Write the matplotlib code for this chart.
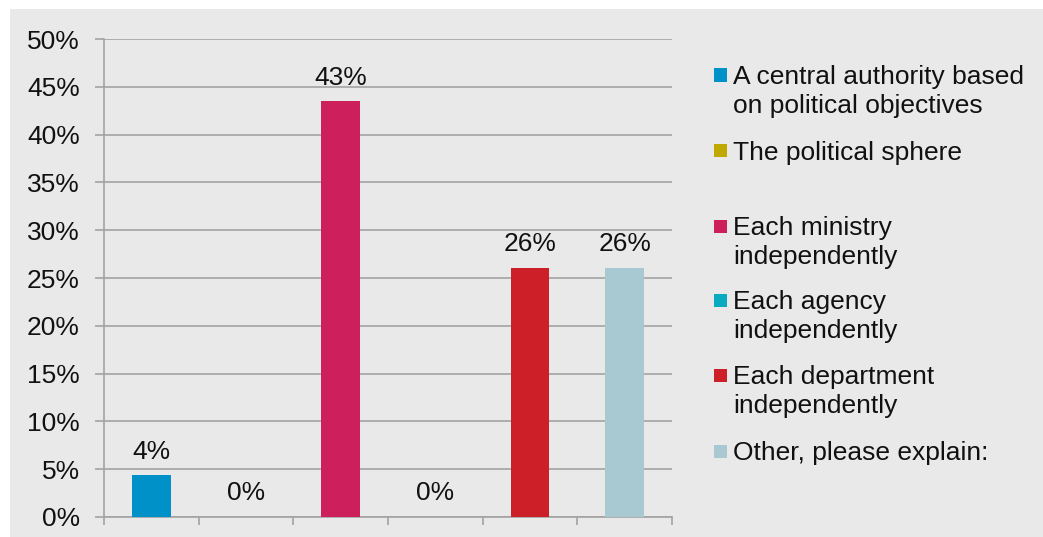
#!/usr/bin/env python
"""Bar chart: who sets priorities (share of respondents per answer)."""

import matplotlib

matplotlib.use("Agg")
import matplotlib.pyplot as plt
from matplotlib.patches import Rectangle
import numpy as np

plt.rcParams["font.family"] = ["Liberation Sans", "DejaVu Sans"]

answers = [
    "A central authority based\non political objectives",
    "The political sphere\n",
    "Each ministry\nindependently",
    "Each agency\nindependently",
    "Each department\nindependently",
    "Other, please explain:",
]
shares = [4.35, 0.0, 43.48, 0.0, 26.09, 26.09]
colors = ["#0091C8", "#BFA800", "#CD1F5C", "#0AABBF", "#CD1F28", "#A8C9D1"]
yticks = [0, 5, 10, 15, 20, 25, 30, 35, 40, 45, 50]

BG = "#E9E9E9"
GRID = "#A3A3A3"
FS = 19
W, H = 1043, 537

fig = plt.figure(figsize=(W / 100, H / 100), dpi=100, facecolor="white")
fig.patches.append(Rectangle((10 / W, 0), 1 - 10 / W, 1 - 9 / H,
                             transform=fig.transFigure, facecolor=BG,
                             edgecolor="none", zorder=0))

ax = fig.add_axes([104 / W, 20 / H, (672 - 104) / W, (517 - 39) / H])
ax.set_facecolor("none")
ax.set_zorder(2)

x = np.arange(len(shares))
ax.bar(x, shares, width=0.41, color=colors, zorder=3)
for xi, v in zip(x, shares):
    ax.annotate(f"{v:.0f}%", (xi, v), xytext=(0, 12), textcoords="offset points",
                ha="center", va="baseline", fontsize=FS, color="#111111")

ax.set_xlim(-0.5, len(shares) - 0.5)
ax.set_ylim(0, 50)
ax.set_yticks(yticks)
ax.set_yticklabels([f"{t}%" for t in yticks], fontsize=FS, color="#111111")
ax.set_xticks(np.arange(len(shares) + 1) - 0.5)
ax.set_xticklabels([])
ax.tick_params(axis="y", length=6.5, width=1.2, color=GRID, pad=11)
ax.tick_params(axis="x", length=6, width=1.2, color=GRID)
ax.grid(axis="y", color=GRID, lw=1.2, zorder=1)
for side in ("top", "right"):
    ax.spines[side].set_visible(False)
for side in ("left", "bottom"):
    ax.spines[side].set_color(GRID)
    ax.spines[side].set_linewidth(1.2)

# legend drawn by hand so each swatch sits on the first line of its label
leg_y = [75, 151, 226, 300, 375, 451]
for label, c, yp in zip(answers, colors, leg_y):
    fig.patches.append(Rectangle((714 / W, 1 - (yp + 6.5) / H), 13 / W, 13 / H,
                                 transform=fig.transFigure, facecolor=c,
                                 edgecolor="none", zorder=2))
    fig.text(733 / W, 1 - (yp - 10) / H, label, ha="left", va="top",
             fontsize=FS, color="#111111", linespacing=1.27)

fig.savefig("out.png", dpi=100, facecolor="white")
